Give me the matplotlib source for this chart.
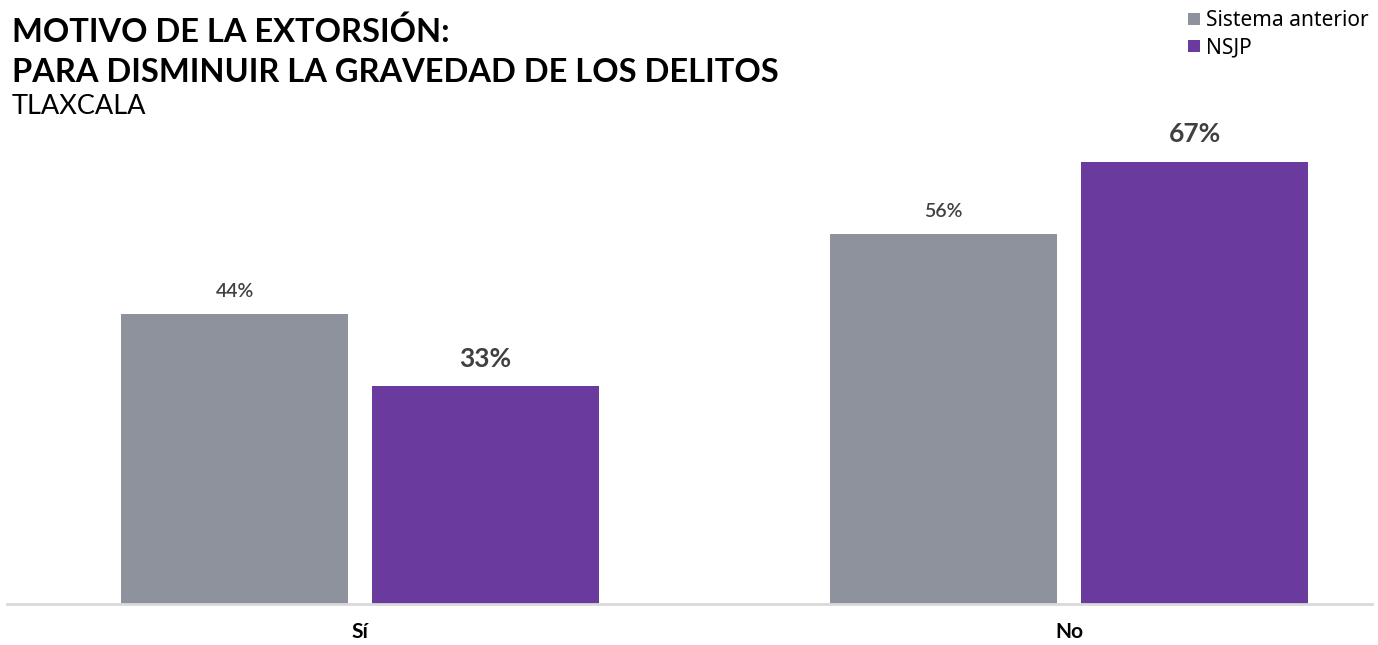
import matplotlib.pyplot as plt
import numpy as np

plt.rcParams['font.family'] = ['Lato', 'DejaVu Sans']

# datos
categorias = ['Sí', 'No']
sistema_anterior = [44, 56]
nsjp = [33, 67]
series = ['Sistema anterior', 'NSJP']

color_gris = '#8D929D'
color_morado = '#6A3A9F'
color_texto = '#404040'

fig = plt.figure(figsize=(13.78, 6.45), dpi=100)
ax = fig.add_axes([7 / 1378, 41 / 645, 1365 / 1378, 474 / 645])

x = np.arange(len(categorias))
ancho = 0.32
desp = 0.177

b1 = ax.bar(x - desp, sistema_anterior, ancho, color=color_gris, label=series[0])
b2 = ax.bar(x + desp, nsjp, ancho, color=color_morado, label=series[1])

ax.set_xlim(-0.498, 1.427)
ax.set_ylim(0, 71.8)

# etiquetas de valores
for rect, v in zip(b1, sistema_anterior):
    ax.annotate(f'{v}%', (rect.get_x() + rect.get_width() / 2, v),
                xytext=(0, 10), textcoords='offset points', ha='center', va='bottom',
                fontsize=14, fontweight='semibold', color=color_texto)
for rect, v in zip(b2, nsjp):
    ax.annotate(f'{v}%', (rect.get_x() + rect.get_width() / 2, v),
                xytext=(0, 11), textcoords='offset points', ha='center', va='bottom',
                fontsize=19, fontweight='bold', color=color_texto)

for s in ['top', 'right', 'left']:
    ax.spines[s].set_visible(False)
ax.spines['bottom'].set_color('#D9D9D9')
ax.spines['bottom'].set_linewidth(2)
ax.set_yticks([])
ax.set_xticks(x)
ax.set_xticklabels(categorias, fontsize=15, fontweight='bold', color='black')
ax.tick_params(axis='x', length=0, pad=13)

# títulos
fig.text(12 / 1378, 1 - 42 / 645, 'MOTIVO DE LA EXTORSIÓN:', fontsize=23.5,
         fontweight='bold', color='black', va='baseline')
fig.text(12 / 1378, 1 - 82 / 645, 'PARA DISMINUIR LA GRAVEDAD DE LOS DELITOS', fontsize=23.5,
         fontweight='bold', color='black', va='baseline')
fig.text(12 / 1378, 1 - 114 / 645, 'TLAXCALA', fontsize=19.5, color='black', va='baseline')

fig.legend(loc='upper left', bbox_to_anchor=(1180 / 1378, 1 - 2 / 645), frameon=False,
           prop={'family': ['Noto Sans', 'DejaVu Sans'], 'size': 15},
           handlelength=0.55, handleheight=0.55, handletextpad=0.3,
           labelspacing=0.28, borderaxespad=0)

fig.savefig('out.png', dpi=100)
